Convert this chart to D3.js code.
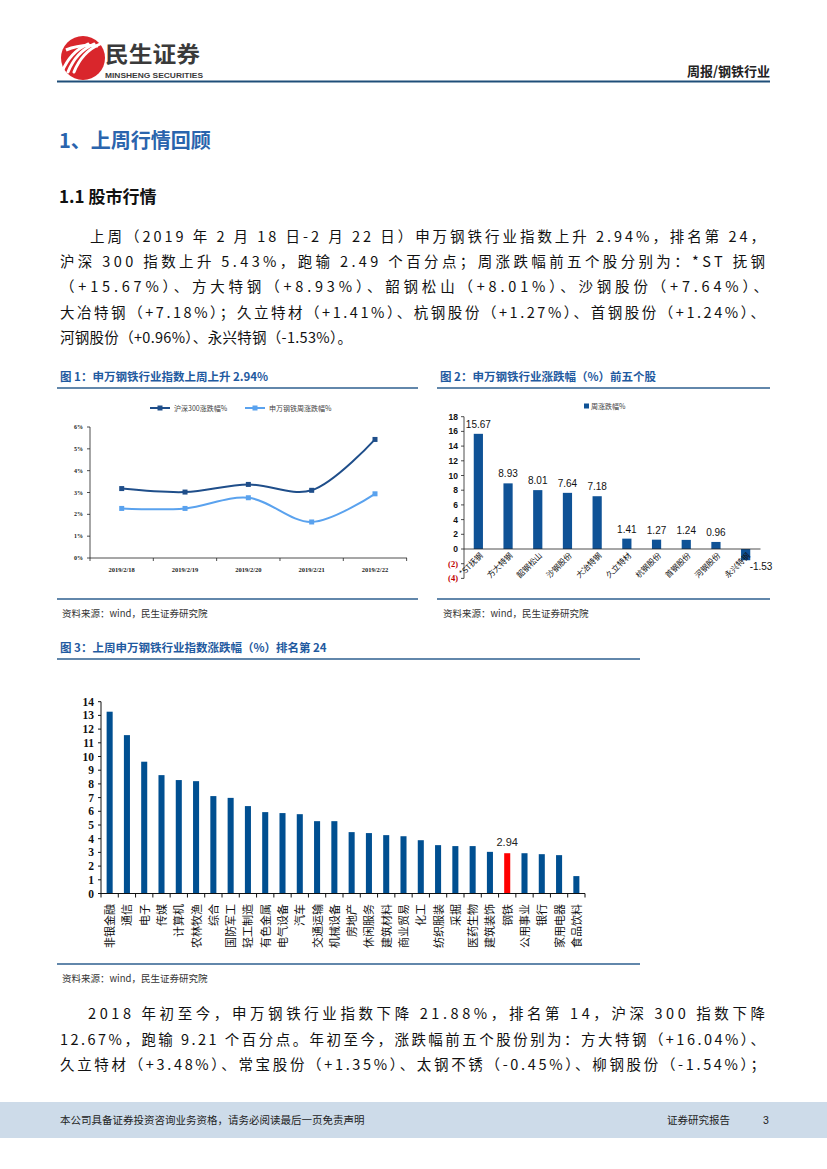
<!DOCTYPE html>
<html><head><meta charset="utf-8">
<script src="https://cdn.jsdelivr.net/npm/d3@7/dist/d3.min.js"></script>
<style>
html,body{margin:0;padding:0;background:#fff;}
svg{display:block;}
text{font-family:"Liberation Sans","Noto Sans CJK SC",sans-serif;}
</style></head>
<body>
<svg id="page" width="827" height="1169"></svg>
<script>
// ---------- data ----------
const c1Dates = ["2019/2/18","2019/2/19","2019/2/20","2019/2/21","2019/2/22"];
const c1Hs300 = [3.18, 3.02, 3.37, 3.10, 5.43];
const c1Steel = [2.27, 2.27, 2.76, 1.65, 2.94];
const c1Ticks = [0,1,2,3,4,5,6];
const c1Legend = ["沪深300涨跌幅%","申万钢铁周涨跌幅%"];

const c2Stocks = ["*ST抚钢","方大特钢","韶钢松山","沙钢股份","大冶特钢","久立特材","杭钢股份","首钢股份","河钢股份","永兴特钢"];
const c2Values = [15.67, 8.93, 8.01, 7.64, 7.18, 1.41, 1.27, 1.24, 0.96, -1.53];
const c2Ticks = [-4,-2,0,2,4,6,8,10,12,14,16,18];
const c2Legend = "周涨跌幅%";

const c3Industries = ["非银金融","通信","电子","传媒","计算机","农林牧渔","综合","国防军工","轻工制造","有色金属","电气设备","汽车","交通运输","机械设备","房地产","休闲服务","建筑材料","商业贸易","化工","纺织服装","采掘","医药生物","建筑装饰","钢铁","公用事业","银行","家用电器","食品饮料"];
const c3Values = [13.27, 11.56, 9.62, 8.64, 8.28, 8.20, 7.11, 6.98, 6.38, 5.94, 5.87, 5.79, 5.28, 5.28, 4.48, 4.41, 4.26, 4.18, 3.89, 3.53, 3.46, 3.46, 3.04, 2.94, 2.94, 2.87, 2.80, 1.27];
const c3Highlight = "钢铁";
const c3Ticks = d3.range(0, 15);

const para1 = [
  "上周（2019 年 2 月 18 日-2 月 22 日）申万钢铁行业指数上升 2.94%，排名第 24，",
  "沪深 300 指数上升 5.43%，跑输 2.49 个百分点；周涨跌幅前五个股分别为：*ST 抚钢",
  "（+15.67%）、方大特钢（+8.93%）、韶钢松山（+8.01%）、沙钢股份（+7.64%）、",
  "大冶特钢（+7.18%）；久立特材（+1.41%）、杭钢股份（+1.27%）、首钢股份（+1.24%）、",
  "河钢股份（+0.96%）、永兴特钢（-1.53%）。"
];
const para2 = [
  "2018 年初至今，申万钢铁行业指数下降 21.88%，排名第 14，沪深 300 指数下降",
  "12.67%，跑输 9.21 个百分点。年初至今，涨跌幅前五个股份别为：方大特钢（+16.04%）、",
  "久立特材（+3.48%）、常宝股份（+1.35%）、太钢不锈（-0.45%）、柳钢股份（-1.54%）；"
];

// ---------- page ----------
const svg = d3.select("#page");
svg.append("rect").attr("width",827).attr("height",1169).attr("fill","#fff");
const BLUE = "#1f5aa0";
const CJK = '"Noto Sans CJK SC","Liberation Sans",sans-serif';
const SERIF = '"Liberation Serif","Noto Sans CJK SC",serif';

// header logo
const logo = svg.append("g");
logo.append("circle").attr("cx",83).attr("cy",58).attr("r",22).attr("fill","#d9262c");
[-8,-2,4].forEach(dx=>{
  logo.append("path")
    .attr("d",`M${70+dx},${72} Q${78+dx},${52} ${96+dx},${44}`)
    .attr("stroke","#fff").attr("stroke-width",3).attr("fill","none").attr("stroke-linecap","round");
});
logo.append("path").attr("d","M66,50 Q80,44 98,46").attr("stroke","#fff").attr("stroke-width",3).attr("fill","none");
svg.append("text").attr("x",105).attr("y",62).attr("font-size",22).attr("font-weight","bold")
  .attr("fill","#3a3a3a").style("font-family",CJK).attr("textLength",95).attr("lengthAdjust","spacingAndGlyphs").text("民生证券");
svg.append("text").attr("x",105).attr("y",77.5).attr("font-size",7.5).attr("font-weight","bold")
  .attr("fill","#3a3a3a").attr("textLength",98).attr("lengthAdjust","spacingAndGlyphs").text("MINSHENG SECURITIES");
svg.append("text").attr("x",770).attr("y",76).attr("text-anchor","end").attr("font-size",13).attr("font-weight","bold")
  .attr("fill","#222").style("font-family",CJK).text("周报/钢铁行业");
svg.append("line").attr("x1",57).attr("x2",770).attr("y1",81.5).attr("y2",81.5).attr("stroke","#1f4e79").attr("stroke-width",2.2);

// section titles
svg.append("text").attr("x",59).attr("y",148).attr("font-size",20).attr("font-weight","bold")
  .attr("fill","#2a64ad").style("font-family",CJK).text("1、上周行情回顾");
svg.append("text").attr("x",59).attr("y",203).attr("font-size",17).attr("font-weight","bold")
  .attr("fill","#111").style("font-family",CJK).text("1.1 股市行情");

// paragraphs
function para(lines, ys, x0s, ends){
  lines.forEach((t,i)=>{
    svg.append("text").attr("x",x0s[i]).attr("y",ys[i]).attr("font-size",14.5)
      .attr("fill","#111").style("font-family",CJK)
      .attr("textLength",ends[i]-x0s[i]).attr("lengthAdjust","spacing").text(t);
  });
}
para(para1,[242,267,292,318,343],[90,60,60,60,60],[765,765,768,765,352]);
para(para2,[1019,1045,1070],[88,60,60],[765,765,765]);

// figure titles
function figTitle(x, y, x2, t){
  svg.append("text").attr("x",x).attr("y",y).attr("font-size",11.5).attr("font-weight","bold")
    .attr("fill",BLUE).style("font-family",CJK).text(t);
  svg.append("line").attr("x1",x-3).attr("x2",x2).attr("y1",y+7).attr("y2",y+7).attr("stroke","#2e5f8f").attr("stroke-width",1.5);
}
figTitle(60,381,418,"图 1：申万钢铁行业指数上周上升 2.94%");
figTitle(440,381,770,"图 2：申万钢铁行业涨跌幅（%）前五个股");
figTitle(60,652,640,"图 3：上周申万钢铁行业指数涨跌幅（%）排名第 24");
// bottom rules and sources
function source(x, y, x1, x2){
  svg.append("line").attr("x1",x1).attr("x2",x2).attr("y1",y-18).attr("y2",y-18).attr("stroke","#2e5f8f").attr("stroke-width",1.5);
  svg.append("text").attr("x",x).attr("y",y).attr("font-size",9.5).attr("fill","#333").style("font-family",CJK).text("资料来源：wind，民生证券研究院");
}
source(62,617,57,418);
source(443,617,437,770);
source(62,982,57,640);

// ---------- chart 1 ----------
{
  const x = d3.scalePoint().domain(c1Dates).range([121.7,375]);
  const y = d3.scaleLinear().domain([0,6]).range([558,427]);
  const g = svg.append("g");
  g.append("line").attr("x1",90).attr("x2",90).attr("y1",427).attr("y2",558).attr("stroke","#222").attr("stroke-width",0.8);
  g.append("line").attr("x1",90).attr("x2",407).attr("y1",558).attr("y2",558).attr("stroke","#222").attr("stroke-width",0.8);
  c1Ticks.forEach(v=>{
    g.append("line").attr("x1",87).attr("x2",90).attr("y1",y(v)).attr("y2",y(v)).attr("stroke","#222").attr("stroke-width",0.8);
    g.append("text").attr("x",83).attr("y",y(v)+2).attr("text-anchor","end").attr("font-size",6)
      .attr("font-weight","bold").style("font-family",SERIF).attr("fill","#222").text(v+"%");
  });
  const step = x.step();
  d3.range(c1Dates.length+1).forEach(i=>{
    const xx = 90 + i*step;
    g.append("line").attr("x1",xx).attr("x2",xx).attr("y1",558).attr("y2",561).attr("stroke","#222").attr("stroke-width",0.8);
  });
  c1Dates.forEach(d=>{
    g.append("text").attr("x",x(d)).attr("y",572).attr("text-anchor","middle").attr("font-size",6.5)
      .attr("font-weight","bold").style("font-family",SERIF).attr("fill","#222").text(d);
  });
  const series = [{v:c1Hs300,c:"#1f4e8a"},{v:c1Steel,c:"#5aa2ee"}];
  const line = d3.line().x((d,i)=>x(c1Dates[i])).y(d=>y(d)).curve(d3.curveCatmullRom.alpha(0.5));
  series.forEach(s=>{
    g.append("path").attr("d",line(s.v)).attr("fill","none").attr("stroke",s.c).attr("stroke-width",2);
    s.v.forEach((v,i)=>{
      g.append("rect").attr("x",x(c1Dates[i])-2.5).attr("y",y(v)-2.5).attr("width",5).attr("height",5).attr("fill",s.c);
    });
  });
  // legend
  const lx = [150,245];
  c1Legend.forEach((t,i)=>{
    const c = series[i].c;
    g.append("line").attr("x1",lx[i]).attr("x2",lx[i]+20).attr("y1",408).attr("y2",408).attr("stroke",c).attr("stroke-width",2);
    g.append("rect").attr("x",lx[i]+7.5).attr("y",405.5).attr("width",5).attr("height",5).attr("fill",c);
    g.append("text").attr("x",lx[i]+24).attr("y",410.5).attr("font-size",7).attr("fill","#444").style("font-family",CJK).text(t);
  });
}

// ---------- chart 2 ----------
{
  const x = d3.scaleBand().domain(c2Stocks).range([463.5,760.5]).paddingInner(0.69).paddingOuter(0.345);
  const y = d3.scaleLinear().domain([-4,18]).range([578.4,416.7]);
  const g = svg.append("g");
  const col = "#0f5296";
  g.selectAll("rect.b").data(c2Values).enter().append("rect")
    .attr("x",(d,i)=>x(c2Stocks[i])).attr("width",x.bandwidth())
    .attr("y",d=>y(Math.max(0,d))).attr("height",d=>Math.abs(y(d)-y(0))).attr("fill",col);
  g.append("line").attr("x1",464).attr("x2",464).attr("y1",416.7).attr("y2",578.4).attr("stroke","#222").attr("stroke-width",0.8);
  g.append("line").attr("x1",464).attr("x2",760.5).attr("y1",y(0)).attr("y2",y(0)).attr("stroke","#222").attr("stroke-width",0.8);
  c2Ticks.forEach(v=>{
    g.append("line").attr("x1",461).attr("x2",464).attr("y1",y(v)).attr("y2",y(v)).attr("stroke","#222").attr("stroke-width",0.8);
    const neg = v<0;
    g.append("text").attr("x",458).attr("y",y(v)+3).attr("text-anchor","end").attr("font-size",8.5)
      .attr("font-weight","bold").attr("fill",neg?"#c00000":"#111")
      .style("font-family",neg?SERIF:'"Liberation Sans",sans-serif')
      .text(neg?"("+Math.abs(v)+")":v);
  });
  c2Values.forEach((v,i)=>{
    const cx = x(c2Stocks[i]) + x.bandwidth()/2;
    if(v>=0){
      g.append("text").attr("x",cx).attr("y",y(v)-6).attr("text-anchor","middle").attr("font-size",10).attr("fill","#111").text(v.toFixed(2));
    } else {
      g.append("text").attr("x",cx+4).attr("y",y(v)+10).attr("text-anchor","start").attr("font-size",10).attr("fill","#111").text(v.toFixed(2));
    }
    g.append("text").attr("transform",`translate(${cx+3},${y(0)+5}) rotate(-45)`)
      .attr("text-anchor","end").attr("dy","0.35em").attr("font-size",8).attr("fill","#111")
      .style("font-family",CJK).text(c2Stocks[i]);
  });
  g.append("rect").attr("x",584).attr("y",403.5).attr("width",5).attr("height",5).attr("fill",col);
  g.append("text").attr("x",591).attr("y",409).attr("font-size",7).attr("fill","#444").style("font-family",CJK).text(c2Legend);
}

// ---------- chart 3 ----------
{
  const x = d3.scaleBand().domain(c3Industries).range([101,585]).paddingInner(0.65).paddingOuter(0.325);
  const y = d3.scaleLinear().domain([0,14]).range([893.5,701.7]);
  const g = svg.append("g");
  g.selectAll("rect.b").data(c3Values).enter().append("rect")
    .attr("x",(d,i)=>x(c3Industries[i])).attr("width",x.bandwidth())
    .attr("y",d=>y(d)).attr("height",d=>y(0)-y(d))
    .attr("fill",(d,i)=>c3Industries[i]===c3Highlight?"#ff0000":"#004f91");
  g.append("line").attr("x1",101).attr("x2",101).attr("y1",701.7).attr("y2",893.5).attr("stroke","#111").attr("stroke-width",1);
  g.append("line").attr("x1",101).attr("x2",585).attr("y1",893.5).attr("y2",893.5).attr("stroke","#111").attr("stroke-width",1);
  c3Ticks.forEach(v=>{
    g.append("line").attr("x1",98).attr("x2",101).attr("y1",y(v)).attr("y2",y(v)).attr("stroke","#111");
    g.append("text").attr("x",94).attr("y",y(v)+4).attr("text-anchor","end").attr("font-size",11.5)
      .attr("font-weight","bold").style("font-family",SERIF).attr("fill","#111").text(v);
  });
  const step = x.step();
  d3.range(c3Industries.length+1).forEach(i=>{
    const xx = 101 + i*step;
    g.append("line").attr("x1",xx).attr("x2",xx).attr("y1",893.5).attr("y2",897.5).attr("stroke","#111");
  });
  c3Industries.forEach((d,i)=>{
    const cx = x(d)+x.bandwidth()/2;
    g.append("text").attr("transform",`translate(${cx+4.5},${904}) rotate(-90)`)
      .attr("text-anchor","end").attr("font-size",11).attr("fill","#111")
      .style("font-family",CJK).text(d);
    if(d===c3Highlight){
      g.append("text").attr("x",cx).attr("y",y(c3Values[i])-7).attr("text-anchor","middle")
        .attr("font-size",11).attr("fill","#222").text(c3Values[i].toFixed(2));
    }
  });
}

// ---------- footer ----------
svg.append("rect").attr("x",0).attr("y",1102).attr("width",827).attr("height",36).attr("fill","#cddbe9");
svg.append("text").attr("x",60).attr("y",1124).attr("font-size",10.5).attr("fill","#222").style("font-family",CJK)
  .text("本公司具备证券投资咨询业务资格，请务必阅读最后一页免责声明");
svg.append("text").attr("x",667).attr("y",1124).attr("font-size",10.5).attr("fill","#222").style("font-family",CJK).text("证券研究报告");
svg.append("text").attr("x",763).attr("y",1124).attr("font-size",10.5).attr("fill","#222").text("3");
</script>
</body></html>
